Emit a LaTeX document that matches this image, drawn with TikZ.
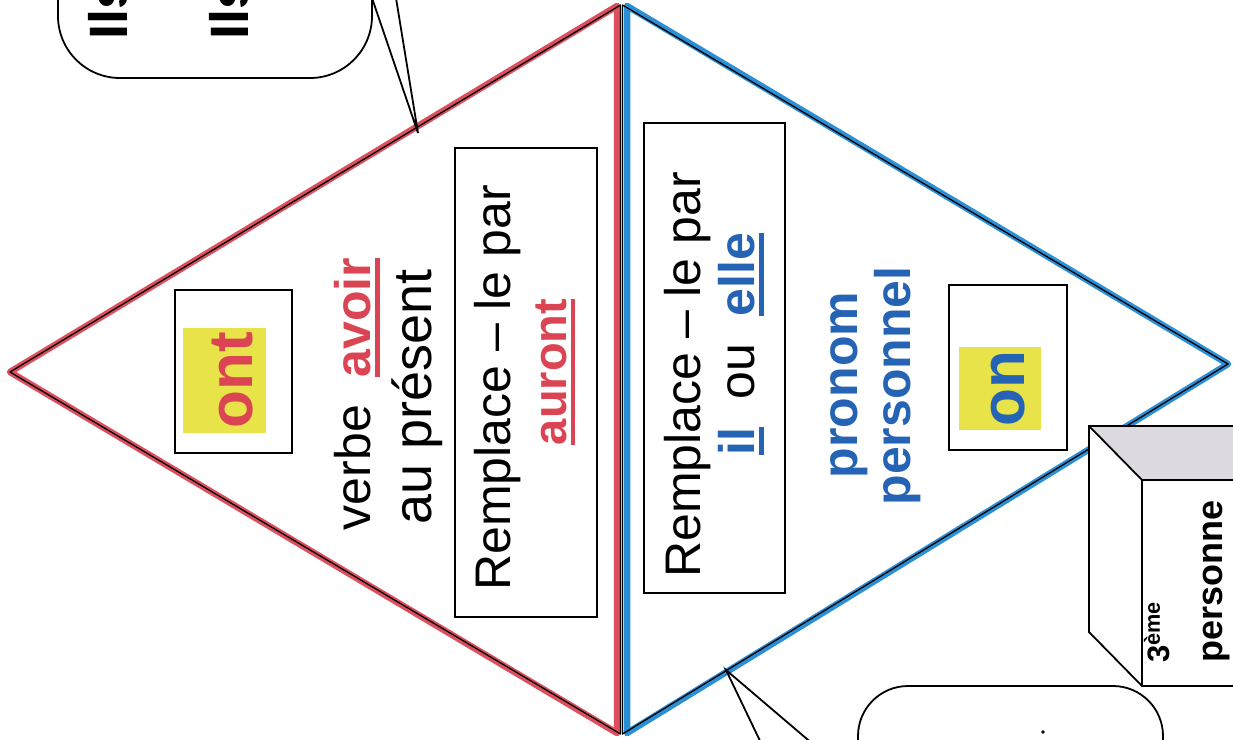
\documentclass[tikz,border=0pt]{standalone}
\usepackage{fontspec}
\setmainfont{Liberation Sans}
\definecolor{redline}{HTML}{DC4F5E}
\definecolor{redtxt}{HTML}{DB4452}
\definecolor{blueline}{HTML}{2B8FD6}
\definecolor{bluetxt}{HTML}{2563B5}
\definecolor{hl}{HTML}{E9E34A}
\definecolor{cubetop}{HTML}{DDD9E1}
\newcommand\myul[1]{\setbox0\hbox{#1}\rlap{\rule[-0.2em]{\wd0}{0.1em}}\box0}
\begin{document}
\begin{tikzpicture}[x=1pt,y=-1pt,
  txt/.style={rotate=90, anchor=base, inner sep=0pt, font=\fontsize{50}{60}\selectfont},
  btxt/.style={rotate=90, anchor=base, inner sep=0pt, font=\fontsize{50}{60}\selectfont\bfseries},
  bigtxt/.style={rotate=90, anchor=base, inner sep=0pt, font=\fontsize{62}{70}\selectfont\bfseries},
  frame/.style={draw=black, line width=1.8pt},
  bubble/.style={draw=black, line width=1.8pt},
  rededge/.style={draw=redline, line width=6.5pt, line join=round},
  blueedge/.style={draw=blueline, line width=6.5pt, line join=round},
  blackedge/.style={draw=black, line width=1.3pt, line join=round}]
\path[use as bounding box] (0,0) rectangle (1233,739);
\clip (0,0) rectangle (1233,739);
\fill[white] (0,0) rectangle (1233,739);
% diamond
\coordinate (L) at (10,372);
\coordinate (R) at (1228,364);
\draw[rededge] (L) -- (617,6) -- (617,733) -- cycle;
\draw[blackedge] (L) -- (620.5,5) -- (620.5,734) -- cycle;
\draw[blueedge] (627,6) -- (R) -- (627,733) -- cycle;
\draw[blackedge] (622.5,5) -- (R) -- (622.5,734) -- cycle;
% left half
\node[frame, minimum width=117pt, minimum height=163pt, inner sep=0pt] (ontbox) at (233.5,371.5) {};
\node[fill=hl, minimum width=83pt, minimum height=105pt, inner sep=0pt] (onthl) at (224.5,380.5) {};
\node[bigtxt, text=redtxt] (ont) at (252,380) {ont};
\node[txt] (verbe) at (370,394) {verbe~~\textcolor{redtxt}{\myul{\bfseries avoir}}};
\node[txt, font=\fontsize{54}{60}\selectfont] (present) at (431,397) {au~présent};
\node[frame, minimum width=142pt, minimum height=469pt, inner sep=0pt] (lbox) at (526,382.5) {};
\node[txt] (rempl1) at (510,388) {Remplace – le par};
\node[btxt, text=redtxt, font=\fontsize{47}{56}\selectfont\bfseries] (auront) at (566,372) {\myul{auront}};
% right half
\node[frame, minimum width=141pt, minimum height=470pt, inner sep=0pt] (rbox) at (714.5,358) {};
\node[txt] (rempl2) at (700,375) {Remplace – le par};
\node[txt] (ilelle) at (754,344) {\textcolor{bluetxt}{\myul{\bfseries il}}~~ou~~\textcolor{bluetxt}{\myul{\bfseries elle}}};
\node[btxt, text=bluetxt] (pronom) at (857,385) {pronom};
\node[btxt, text=bluetxt] (personnel) at (910,386) {personnel};
\node[frame, minimum width=118pt, minimum height=165pt, inner sep=0pt] (onbox) at (1008,367.5) {};
\node[fill=hl, minimum width=82pt, minimum height=83pt, inner sep=0pt] (onhl) at (1000,388.5) {};
\node[bigtxt, text=bluetxt] (on) at (1024,389) {on};
% cube
\fill[cubetop] (1089,426) -- (1245,426) -- (1245,480) -- (1142,480) -- cycle;
\fill[white] (1089,426) -- (1142,480) -- (1142,686) -- (1089,632) -- cycle;
\fill[white] (1142,480) rectangle (1245,686);
\draw[frame] (1245,426) -- (1089,426) -- (1089,632) -- (1142,686) -- (1245,686);
\draw[frame] (1089,426) -- (1142,480) -- (1245,480);
\draw[frame] (1142,480) -- (1142,686);
\node[rotate=90, anchor=base west, inner sep=0pt, font=\fontsize{31}{36}\selectfont\bfseries] (troisieme) at (1169,663) {3\textsuperscript{ème}};
\node[rotate=90, anchor=base west, inner sep=0pt, font=\fontsize{36}{42}\selectfont\bfseries] (personne) at (1222,663) {personne};
% top-left bubble
\draw[bubble, rounded corners=62pt] (58,-120) rectangle (372,78);
\node[rotate=90, anchor=base west, inner sep=0pt, font=\fontsize{54}{60}\selectfont\bfseries] (ils1) at (127,40) {Ils};
\node[rotate=90, anchor=base west, inner sep=0pt, font=\fontsize{54}{60}\selectfont\bfseries] (ils2) at (248,40) {Ils};
\coordinate (ttip) at (418,133);
\coordinate (ta) at (372,-2);
\coordinate (tb) at (396,-2);
\draw[bubble] (ta) -- (ttip) -- (tb);
% bottom-right bubble
\draw[bubble, rounded corners=50pt] (858,686) rectangle (1163,900);
\coordinate (btip) at (726,670);
\coordinate (ba) at (762,745);
\coordinate (bb) at (814,745);
\draw[bubble] (ba) -- (btip) -- (bb);
\fill[black] (1043,732) circle (1.8pt);
\end{tikzpicture}
\end{document}
